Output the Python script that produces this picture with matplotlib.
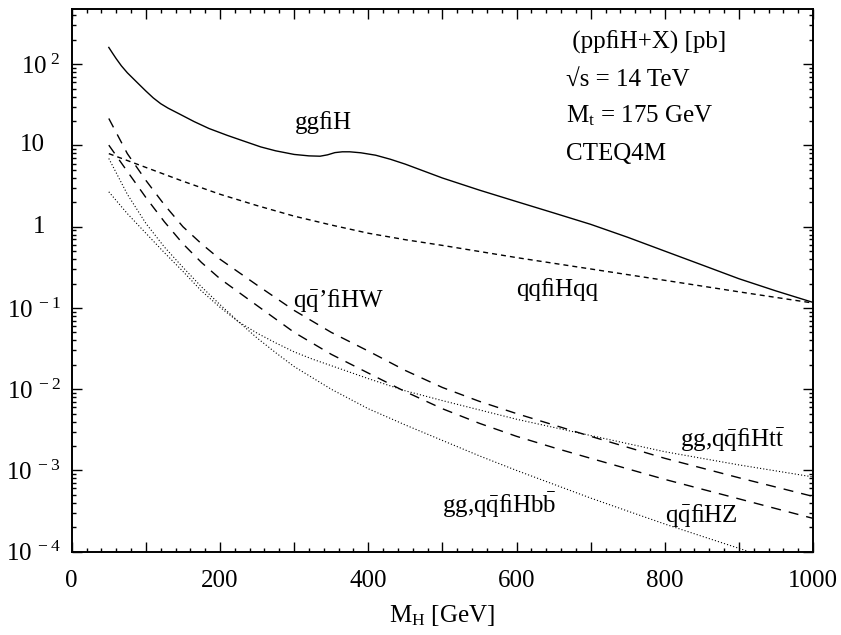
import matplotlib
matplotlib.use("Agg")
import matplotlib.pyplot as plt
import numpy as np
from matplotlib.ticker import (FixedLocator, FuncFormatter, LogLocator,
                               MultipleLocator, NullFormatter)

plt.rcParams["font.family"] = ["Liberation Serif", "DejaVu Serif"]
plt.rcParams["mathtext.fontset"] = "custom"
plt.rcParams["mathtext.rm"] = "Liberation Serif"
plt.rcParams["mathtext.it"] = "Liberation Serif:italic"
plt.rcParams["mathtext.bf"] = "Liberation Serif:bold"
plt.rcParams["lines.scale_dashes"] = False

# Higgs production cross sections at the LHC, sigma in pb vs M_H in GeV
mh_ggh = [50, 55, 60, 67, 75, 90, 100, 110, 120, 130, 145, 165, 185, 210, 230,
          255, 275, 300, 320, 335, 345, 355, 365, 375, 390, 410, 430, 450, 500,
          550, 600, 650, 700, 750, 800, 850, 900, 950, 1000]
sig_ggh = [161, 137, 117, 95.5, 78.5, 57.5, 46.8, 38.5, 32.7, 28.8, 24.5, 19.7,
           16.2, 13.3, 11.5, 9.6, 8.6, 7.76, 7.45, 7.38, 7.67, 8.17, 8.36, 8.36,
           8.13, 7.59, 6.76, 5.89, 3.98, 2.82, 2.04, 1.48, 1.07, 0.741, 0.501,
           0.339, 0.229, 0.162, 0.117]

mh_vbf = [50, 100, 150, 200, 250, 300, 350, 400, 450, 500, 600, 700, 800, 900, 1000]
sig_vbf = [7.94, 5.37, 3.63, 2.51, 1.82, 1.35, 1.05, 0.832, 0.692, 0.589, 0.417,
           0.302, 0.219, 0.158, 0.115]

mh_vh = [50, 75, 100, 125, 150, 175, 200, 250, 300, 350, 400, 450, 500, 550,
         600, 650, 700, 800, 900, 1000]
sig_wh = [21.5, 7.94, 3.72, 1.86, 1.0, 0.617, 0.398, 0.191, 0.0933, 0.0501,
          0.0295, 0.0170, 0.0105, 0.00708, 0.00501, 0.00363, 0.00263, 0.00141,
          0.000813, 0.000479]
sig_zh = [10.1, 4.79, 2.29, 1.15, 0.617, 0.363, 0.229, 0.107, 0.0501, 0.0269,
          0.0158, 0.00933, 0.00575, 0.00380, 0.00263, 0.00191, 0.00141, 0.000776,
          0.000447, 0.000257]

mh_tth = [50, 75, 100, 125, 150, 175, 200, 225, 250, 275, 300, 325, 350, 400,
          450, 500, 600, 700, 800, 900, 1000]
sig_tth = [2.69, 1.45, 0.832, 0.479, 0.282, 0.162, 0.102, 0.0676, 0.0490, 0.0372,
           0.0288, 0.0234, 0.0195, 0.0135, 0.00955, 0.00724, 0.00427, 0.00269,
           0.00170, 0.00117, 0.000832]

mh_bbh = [50, 75, 100, 125, 150, 175, 200, 225, 250, 275, 300, 350, 400, 450,
          500, 550, 600, 650, 700, 750, 800, 850, 900, 950]
sig_bbh = [6.92, 2.51, 1.10, 0.562, 0.316, 0.182, 0.110, 0.0676, 0.0427, 0.0282,
           0.0190, 0.0100, 0.00575, 0.00363, 0.00234, 0.00151, 0.00100, 0.000676,
           0.000457, 0.000316, 0.000219, 0.000155, 0.000110, 0.0000776]

y_decades = [1e-4, 1e-3, 1e-2, 1e-1, 1, 10, 100]
x_major = [0, 100, 200, 300, 400, 500, 600, 700, 800, 900, 1000]

ARROW = "\ufb01"
QQB = r"q$\mathrm{\bar{q}}$"
curve_labels = [
    ("gg" + ARROW + "H", 301, 15.9),
    (QQB + "\u2019" + ARROW + "HW", 298, 0.104),
    ("qq" + ARROW + "Hqq", 600, 0.14),
    ("gg," + QQB + ARROW + r"Hb$\mathrm{\bar{b}}$", 500, 3.0e-4),
    ("gg," + QQB + ARROW + r"Ht$\mathrm{\bar{t}}$", 820, 1.97e-3),
    (QQB + ARROW + "HZ", 800, 2.35e-4),
]
info_lines = [
    " (pp" + ARROW + "H+X) [pb]",
    "\u221as = 14 TeV",
    r"$\mathrm{M_t}$ = 175 GeV",
    "CTEQ4M",
]
FS = 18

fig = plt.figure(figsize=(8.41, 6.35), dpi=100)
ax = fig.add_axes([0.0853, 0.1312, 0.8815, 0.8542])

lw = 1.0
ax.plot(mh_ggh, sig_ggh, color="black", lw=lw)
ax.plot(mh_vbf, sig_vbf, color="black", lw=lw, dashes=(3.6, 2.9))
ax.plot(mh_vh, sig_wh, color="black", lw=lw, dashes=(7.2, 5.8))
ax.plot(mh_vh, sig_zh, color="black", lw=lw, dashes=(7.2, 5.8))
ax.plot(mh_tth, sig_tth, color="black", lw=0.8, dashes=(0.8, 1.5))
ax.plot(mh_bbh, sig_bbh, color="black", lw=0.8, dashes=(0.8, 1.5))

ax.set_xlim(0, 1000)
ax.set_yscale("log")
ax.set_ylim(1e-4, 475)

ax.xaxis.set_major_locator(FixedLocator(x_major))
ax.xaxis.set_minor_locator(MultipleLocator(20))
ax.xaxis.set_major_formatter(
    FuncFormatter(lambda v, p: f"{int(round(v))}" if int(round(v)) % 200 == 0 else ""))
ax.yaxis.set_major_locator(FixedLocator(y_decades))
ax.yaxis.set_minor_locator(LogLocator(base=10, subs=np.arange(2, 10), numticks=20))
ax.yaxis.set_minor_formatter(NullFormatter())


def ylab(v, pos):
    e = int(round(np.log10(v)))
    if e in (0, 1):
        # drawn separately, set back from the exponent column
        return ""
    return r"$\mathrm{10}^{\ %d}$" % e


ax.yaxis.set_major_formatter(FuncFormatter(ylab))
ax.tick_params(which="both", direction="in", top=True, right=True,
               labelsize=FS, width=1.0)
ax.tick_params(which="major", length=7.2)
ax.tick_params(which="minor", length=3.2)
ax.tick_params(axis="x", pad=13)
ax.tick_params(axis="y", pad=8)
for s in ax.spines.values():
    s.set_linewidth(1.4)

for v, txt in [(1, "1"), (10, "10")]:
    ax.annotate(txt, xy=(0, v), xycoords=("axes fraction", "data"),
                xytext=(-19, 0), textcoords="offset points",
                ha="right", va="center", fontsize=FS)

ax.set_xlabel(r"$\mathrm{M_H}$ [GeV]", fontsize=FS, labelpad=8)

for txt, x, y in curve_labels:
    ax.text(x, y, txt, fontsize=FS, ha="left", va="baseline")

for i, txt in enumerate(info_lines):
    ax.text(0.667, 0.928 - i * 0.0686, txt, transform=ax.transAxes,
            fontsize=FS, ha="left", va="baseline")

fig.savefig("out.png", dpi=100)
plt.close(fig)
